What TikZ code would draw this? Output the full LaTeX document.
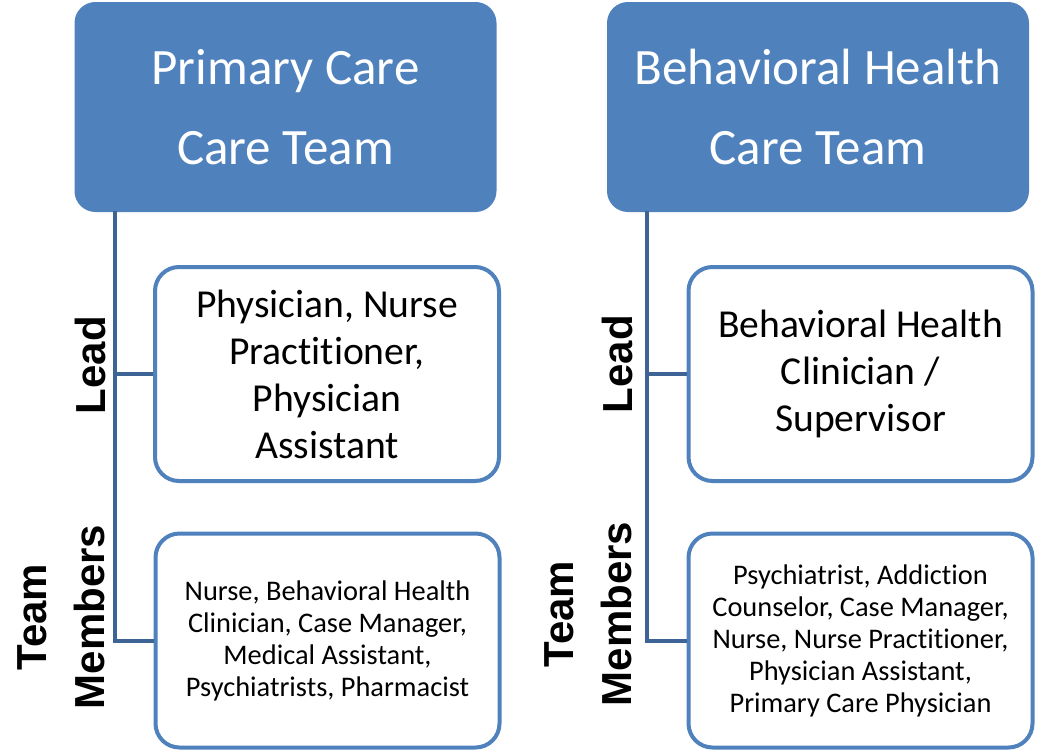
\documentclass[tikz,border=0pt]{standalone}
\usepackage{fontspec}
\setmainfont{Carlito}[Ligatures=NoCommon]
\newfontfamily\sidefont{Liberation Sans}
\definecolor{teamblue}{RGB}{79, 129, 189}
\definecolor{spineblue}{RGB}{62, 100, 150}

\tikzset{
  teambox/.style   ={draw=teamblue, fill=teamblue, line width=1pt, rounded corners=10pt, text=white,
                     align=center, inner sep=0pt, minimum width=210pt, minimum height=104pt,
                     font=\fontsize{25.5}{40}\selectfont},
  rolebox/.style   ={draw=teamblue, fill=white, line width=2pt, rounded corners=12pt, text=black,
                     align=center, inner sep=0pt, minimum width=172pt, minimum height=107pt},
  leadtext/.style  ={font=\fontsize{19.8}{23.5}\selectfont},
  membtext/.style  ={font=\fontsize{14.2}{16}\selectfont},
  sidelabel/.style ={rotate=90, align=center, inner sep=0pt, font=\sidefont\bfseries\fontsize{21}{29}\selectfont},
  spine/.style     ={draw=spineblue, line width=2pt}
}

\begin{document}
\begin{tikzpicture}[x=0.5pt, y=-0.5pt]
  \useasboundingbox (0,0) rectangle (1038,750);

  \node[teambox]           (pcTeam)    at (285.5, 107.0) {Primary Care\\Care Team};
  \node[rolebox, leadtext] (pcLead)    at (327.0, 374.0) {Physician, Nurse\\Practitioner,\\Physician\\Assistant};
  \node[rolebox, membtext] (pcMembers) at (327.5, 640.5) {Nurse, Behavioral Health\\Clinician, Case Manager,\\Medical Assistant,\\Psychiatrists, Pharmacist};

  \node[teambox]           (bhTeam)    at (818.0, 107.0) {Behavioral Health\\Care Team};
  \node[rolebox, leadtext] (bhLead)    at (860.5, 374.0) {Behavioral Health\\Clinician /\\Supervisor};
  \node[rolebox, membtext] (bhMembers) at (860.5, 640.5) {Psychiatrist, Addiction\\Counselor, Case Manager,\\Nurse, Nurse Practitioner,\\Physician Assistant,\\Primary Care Physician};

  \coordinate (pcSpine) at (115, 211);
  \coordinate (bhSpine) at (647, 211);

  \draw[spine] (pcSpine) |- (pcMembers.west);
  \draw[spine] (pcSpine |- pcLead.west) -- (pcLead.west);
  \draw[spine] (bhSpine) |- (bhMembers.west);
  \draw[spine] (bhSpine |- bhLead.west) -- (bhLead.west);

  \node[sidelabel] (pcLeadLabel) at ( 90, 365) {Lead};
  \node[sidelabel] (pcMembLabel) at ( 61, 617) {Team\\Members};
  \node[sidelabel] (bhLeadLabel) at (617, 364) {Lead};
  \node[sidelabel] (bhMembLabel) at (588, 614) {Team\\Members};
\end{tikzpicture}
\end{document}
